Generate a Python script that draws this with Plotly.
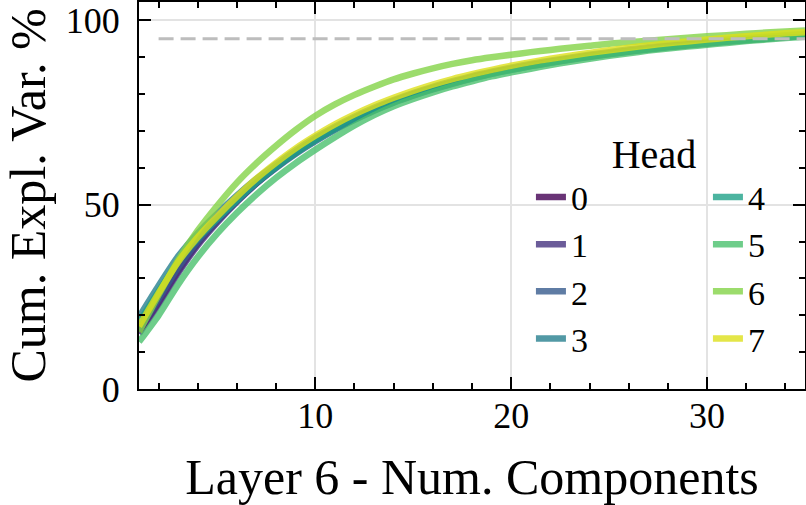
import plotly.graph_objects as go

# ---------------- data ----------------
num_components = list(range(1, 36))
heads = ["0", "1", "2", "3", "4", "5", "6", "7"]

head0 = [15.5, 23.5, 32.0, 39.5, 45.6, 51.0, 55.9, 60.3, 64.2, 67.7, 70.8, 73.5, 75.9, 78.1, 80.0, 81.7, 83.2, 84.6,
         85.8, 86.9, 87.9, 88.8, 89.6, 90.4, 91.1, 91.8, 92.4, 93.0, 93.5, 94.0, 94.5, 94.9, 95.3, 95.7, 96.1]
head1 = [15.0, 23.0, 31.5, 39.0, 45.2, 50.8, 55.8, 60.2, 64.1, 67.6, 70.7, 73.4, 75.8, 78.0, 79.9, 81.6, 83.1, 84.5,
         85.7, 86.8, 87.8, 88.7, 89.5, 90.3, 91.0, 91.7, 92.3, 92.9, 93.4, 93.9, 94.4, 94.8, 95.2, 95.6, 96.0]
head2 = [16.0, 24.5, 33.0, 40.0, 45.8, 51.0, 55.8, 60.0, 63.8, 67.2, 70.3, 73.0, 75.5, 77.7, 79.6, 81.3, 82.8, 84.2,
         85.5, 86.6, 87.6, 88.5, 89.3, 90.1, 90.8, 91.5, 92.1, 92.7, 93.2, 93.7, 94.2, 94.6, 95.0, 95.4, 95.8]
head3 = [19.5, 28.0, 36.0, 42.3, 47.6, 52.5, 57.0, 61.0, 64.8, 68.2, 71.2, 73.9, 76.3, 78.4, 80.3, 82.0, 83.5, 84.9,
         86.1, 87.2, 88.2, 89.1, 89.9, 90.7, 91.4, 92.1, 92.7, 93.3, 93.8, 94.3, 94.8, 95.2, 95.6, 96.0, 96.4]
head4 = [18.0, 26.5, 34.5, 40.8, 46.2, 51.2, 56.0, 60.2, 64.0, 67.4, 70.5, 73.2, 75.6, 77.8, 79.7, 81.4, 82.9, 84.3,
         85.5, 86.6, 87.6, 88.5, 89.4, 90.2, 90.9, 91.6, 92.2, 92.8, 93.3, 93.8, 94.3, 94.7, 95.1, 95.5, 95.9]
head5 = [12.8, 20.0, 28.4, 35.8, 42.2, 47.8, 52.8, 57.3, 61.3, 64.9, 68.3, 71.5, 74.3, 76.7, 78.7, 80.5, 82.1, 83.5,
         84.8, 85.9, 86.9, 87.9, 88.8, 89.6, 90.4, 91.1, 91.8, 92.4, 92.9, 93.4, 93.9, 94.4, 94.8, 95.2, 95.6]
head6 = [15.5, 25.5, 35.0, 43.0, 49.8, 56.0, 61.3, 66.0, 70.3, 74.1, 77.2, 79.8, 82.0, 84.0, 85.6, 87.0, 88.2, 89.2,
         90.0, 90.7, 91.4, 92.0, 92.6, 93.1, 93.7, 94.1, 94.5, 94.9, 95.3, 95.7, 96.0, 96.4, 96.7, 97.0, 97.3]
head7 = [17.0, 26.0, 34.5, 41.2, 46.9, 52.2, 57.1, 61.4, 65.3, 68.7, 71.8, 74.5, 76.9, 79.0, 80.9, 82.6, 84.1, 85.4,
         86.6, 87.7, 88.7, 89.6, 90.4, 91.2, 91.9, 92.6, 93.2, 93.8, 94.3, 94.8, 95.3, 95.7, 96.1, 96.5, 96.8]
series = [head0, head1, head2, head3, head4, head5, head6, head7]

threshold = 95
threshold_x = [2, 35]

x_ticks = [10, 20, 30]
y_ticks = [0, 50, 100]

# ---------------- style ----------------
colors = ["rgba(68,1,84,0.8)", "rgba(70,51,127,0.8)", "rgba(55,91,141,0.8)", "rgba(39,127,142,0.8)",
          "rgba(31,161,136,0.8)", "rgba(74,193,109,0.8)", "rgba(131,211,71,0.8)", "rgba(221,224,26,0.8)"]
FONT = "Liberation Serif, Times New Roman, serif"

fig = go.Figure()
for i, (name, ys) in enumerate(zip(heads, series)):
    first_col = i < 4
    fig.add_trace(go.Scatter(
        x=num_components, y=ys, mode="lines", name=name,
        line=dict(color=colors[i], width=6.5, shape="spline", smoothing=0.6),
        legendgroup="a" if first_col else "b",
        legendwidth=132 if first_col else 24,
    ))

fig.add_shape(type="line", xref="x", yref="y", x0=threshold_x[0], x1=threshold_x[1],
              y0=threshold, y1=threshold, layer="above",
              line=dict(color="#bdbdbd", width=3, dash="15px,7px"))

axis_common = dict(
    showline=True, linecolor="black", linewidth=2, mirror="ticks",
    ticks="inside", ticklen=12, tickwidth=2, tickcolor="black",
    showgrid=True, gridcolor="#e3e3e3", gridwidth=1.5, zeroline=False,
    tickfont=dict(family=FONT, size=36, color="black"),
)

fig.update_xaxes(
    range=[1, 35], tickvals=x_ticks, ticklabelstandoff=-6,
    minor=dict(dtick=2, tick0=0, ticks="inside", ticklen=6, tickwidth=1.5, tickcolor="black", showgrid=False),
    title=dict(text="Layer 6 - Num. Components", font=dict(family=FONT, size=50, color="black"), standoff=28),
    **axis_common,
)
fig.update_yaxes(
    range=[0, 105], tickvals=y_ticks, ticklabelstandoff=10,
    minor=dict(dtick=10, tick0=0, ticks="inside", ticklen=6, tickwidth=1.5, tickcolor="black", showgrid=False),
    title=dict(text="Cum. Expl. Var. %", font=dict(family=FONT, size=50, color="black"), standoff=27),
    **axis_common,
)

fig.update_layout(
    width=806, height=505,
    margin=dict(l=139, r=1, t=2, b=116, autoexpand=False),
    paper_bgcolor="white", plot_bgcolor="white",
    font=dict(family=FONT, color="black"),
    showlegend=True,
    legend=dict(
        orientation="h", traceorder="grouped",
        x=0.5885, xanchor="left", y=0.7045, yanchor="top",
        bgcolor="rgba(0,0,0,0)", borderwidth=0,
        font=dict(family=FONT, size=34, color="black"),
        title=dict(text="Head", side="top center", font=dict(family=FONT, size=40, color="black")),
        tracegroupgap=0,
    ),
)

fig.write_html("out.html")
